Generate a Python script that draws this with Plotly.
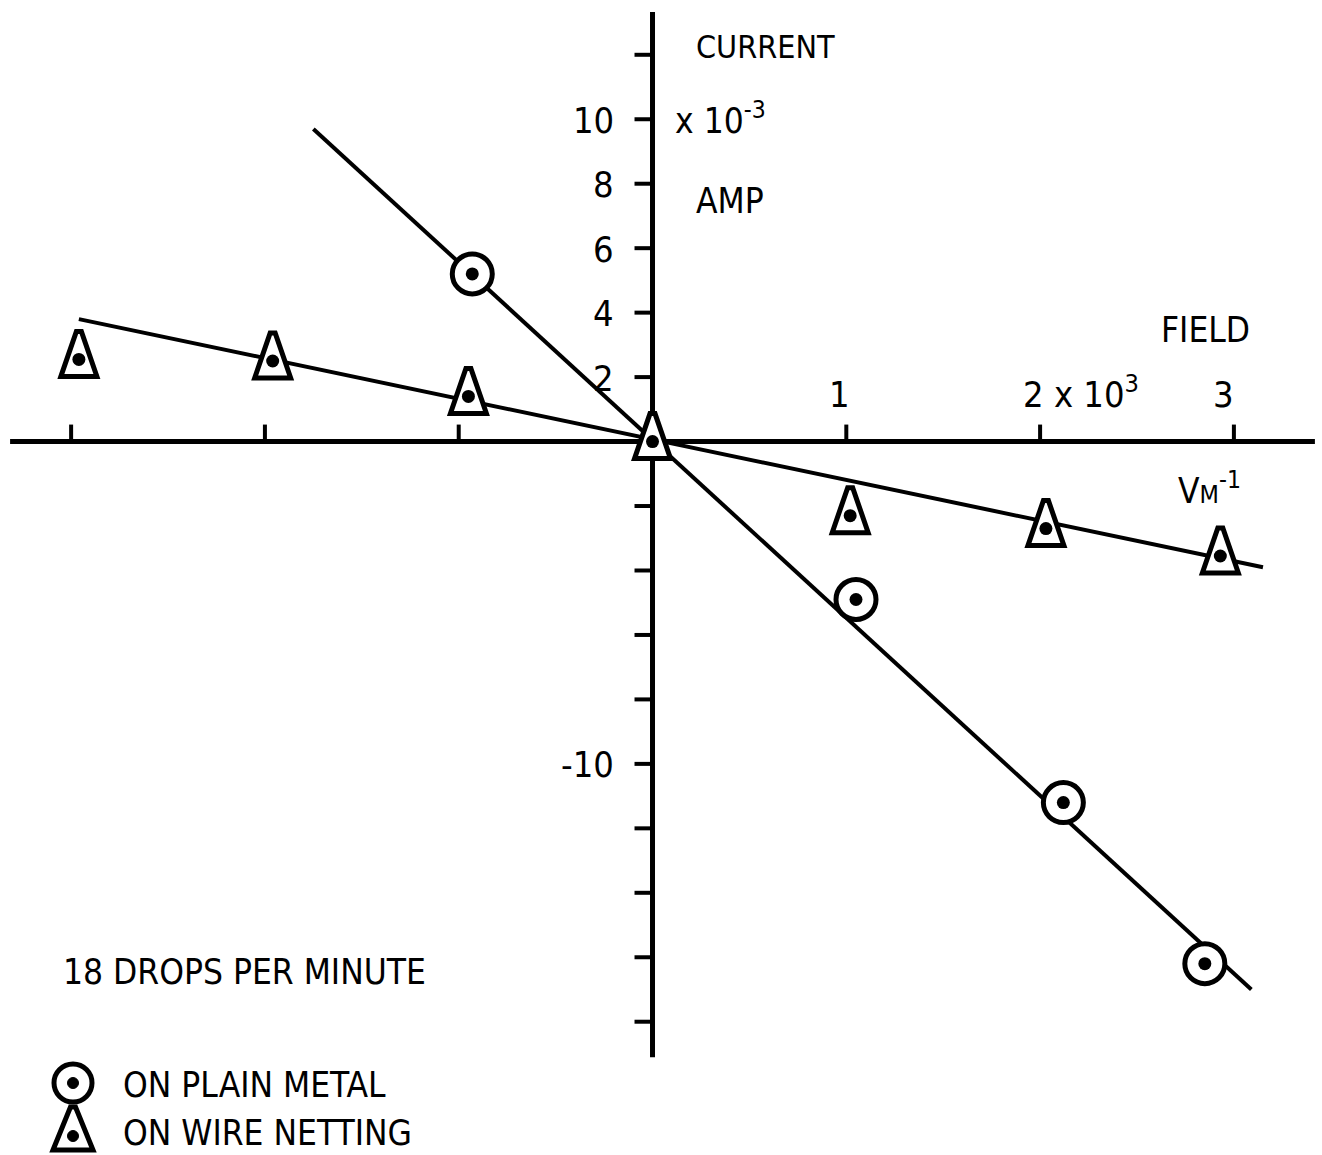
import plotly.graph_objects as go

# Measured current (x 10^-3 A) against field (x 10^3 V/m), 18 drops per minute
metal_field = [-0.93, 1.05, 2.12, 2.85]
metal_current = [5.2, -4.9, -11.2, -16.2]

netting_field = [-2.96, -1.96, -0.95, 0.0, 1.02, 2.03, 2.93]
netting_current = [2.55, 2.5, 1.4, 0.0, -2.3, -2.7, -3.55]

# Hand-fitted straight lines through the origin
metal_fit_field = [-1.75, 3.09]
metal_fit_current = [9.7, -17.0]
netting_fit_field = [-2.96, 3.15]
netting_fit_current = [3.8, -3.9]

# Axis ticks and labels
x_ticks = [-3, -2, -1, 1, 2, 3]
y_ticks = [12, 10, 8, 6, 4, 2, -2, -4, -6, -8, -10, -12, -14, -16, -18]
y_tick_labels = {10: "10", 8: "8", 6: "6", 4: "4", 2: "2", -10: "-10"}

W, H = 1322, 1155
FONT = "Liberation Sans Narrow, Arial Narrow, DejaVu Sans Condensed, sans-serif"
FS = 35
INK = "black"
X_RANGE = [-3.367, 3.4546]
Y_RANGE = [-22.135, 13.70]


def px(x):
    return x / W


def py(y):
    return 1 - y / H


shapes = []

# Cross-shaped axes through the origin
shapes.append(dict(type="line", xref="x", yref="y", x0=-3.315, x1=3.418, y0=0, y1=0,
                   line=dict(color=INK, width=5), layer="below"))
shapes.append(dict(type="line", xref="x", yref="y", x0=0, x1=0, y0=-19.1, y1=13.33,
                   line=dict(color=INK, width=5), layer="below"))

# Tick marks: above the field axis, left of the current axis
for t in x_ticks:
    shapes.append(dict(type="line", xref="x", yref="y", x0=t, x1=t,
                       ysizemode="pixel", yanchor=0, y0=0, y1=17,
                       line=dict(color=INK, width=4), layer="below"))
for t in y_ticks:
    shapes.append(dict(type="line", xref="x", yref="y", y0=t, y1=t,
                       xsizemode="pixel", xanchor=0, x0=-18, x1=0,
                       line=dict(color=INK, width=4), layer="below"))

# Fitted lines
shapes.append(dict(type="line", xref="x", yref="y",
                   x0=metal_fit_field[0], x1=metal_fit_field[1],
                   y0=metal_fit_current[0], y1=metal_fit_current[1],
                   line=dict(color=INK, width=4), layer="below"))
shapes.append(dict(type="line", xref="x", yref="y",
                   x0=netting_fit_field[0], x1=netting_fit_field[1],
                   y0=netting_fit_current[0], y1=netting_fit_current[1],
                   line=dict(color=INK, width=4), layer="below"))

# Tall triangle symbol around each wire-netting point
TRI = "M-18,-17 L-2.5,28 L2.5,28 L18,-17 Z"
for xv, yv in zip(netting_field, netting_current):
    shapes.append(dict(type="path", xref="x", yref="y",
                       xsizemode="pixel", ysizemode="pixel",
                       xanchor=xv, yanchor=yv, path=TRI,
                       fillcolor="white", line=dict(color=INK, width=5), layer="below"))

# Legend symbols
LEG_X = 73
shapes.append(dict(type="circle", xref="paper", yref="paper",
                   xsizemode="pixel", ysizemode="pixel",
                   xanchor=px(LEG_X), yanchor=py(1083), x0=-19, x1=19, y0=-19, y1=19,
                   fillcolor="white", line=dict(color=INK, width=5)))
shapes.append(dict(type="circle", xref="paper", yref="paper",
                   xsizemode="pixel", ysizemode="pixel",
                   xanchor=px(LEG_X), yanchor=py(1083), x0=-5.5, x1=5.5, y0=-5.5, y1=5.5,
                   fillcolor=INK, line=dict(color=INK, width=1)))
shapes.append(dict(type="path", xref="paper", yref="paper",
                   xsizemode="pixel", ysizemode="pixel",
                   xanchor=px(LEG_X), yanchor=py(1136),
                   path="M-20,-14 L-2.5,29 L2.5,29 L20,-14 Z",
                   fillcolor="white", line=dict(color=INK, width=5)))
shapes.append(dict(type="circle", xref="paper", yref="paper",
                   xsizemode="pixel", ysizemode="pixel",
                   xanchor=px(LEG_X), yanchor=py(1136), x0=-5.5, x1=5.5, y0=-5.5, y1=5.5,
                   fillcolor=INK, line=dict(color=INK, width=1)))

fig = go.Figure()

fig.add_trace(go.Scatter(
    x=metal_field, y=metal_current, mode="markers", name="ON PLAIN METAL",
    marker=dict(symbol="circle", size=40, color="white", line=dict(color=INK, width=5)),
))
fig.add_trace(go.Scatter(
    x=metal_field, y=metal_current, mode="markers", showlegend=False,
    marker=dict(symbol="circle", size=13, color=INK, line=dict(width=0)),
))
fig.add_trace(go.Scatter(
    x=netting_field, y=netting_current, mode="markers", name="ON WIRE NETTING",
    marker=dict(symbol="circle", size=13, color=INK, line=dict(width=0)),
))

annotations = []


def label(text, x, y, xanchor="center", yanchor="middle", size=FS):
    annotations.append(dict(text=text, x=x, y=y, xref="paper", yref="paper",
                            xanchor=xanchor, yanchor=yanchor, showarrow=False,
                            font=dict(family=FONT, size=size, color=INK)))


# Current axis tick labels
for v, txt in y_tick_labels.items():
    annotations.append(dict(text=txt, x=0, y=v, xref="x", yref="y",
                            xanchor="right", yanchor="middle", xshift=-37, yshift=-1,
                            showarrow=False, font=dict(family=FONT, size=FS + 1, color=INK)))

# Field axis tick labels
annotations.append(dict(text="1", x=1, y=0, xref="x", yref="y", xanchor="center",
                        yanchor="bottom", xshift=-7, yshift=25, showarrow=False,
                        font=dict(family=FONT, size=FS + 1, color=INK)))
annotations.append(dict(text="2 x 10<sup>3</sup>", x=2, y=0, xref="x", yref="y", xanchor="left",
                        yanchor="bottom", xshift=-19, yshift=25, showarrow=False,
                        font=dict(family=FONT, size=FS + 1, color=INK)))
annotations.append(dict(text="3", x=3, y=0, xref="x", yref="y", xanchor="center",
                        yanchor="bottom", xshift=-10, yshift=25, showarrow=False,
                        font=dict(family=FONT, size=FS + 1, color=INK)))

# Axis titles
label("CURRENT", px(694), py(47), xanchor="left", size=32)
label("x 10<sup>-3</sup>", px(673), py(118), xanchor="left")
label("AMP", px(694), py(201), xanchor="left")
label("FIELD", px(1252), py(330), xanchor="right")
label("V<span style='font-size:25px'>M</span><sup>-1</sup>", px(1176), py(488), xanchor="left")

# Notes and legend text
label("18 DROPS PER MINUTE", px(61), py(972), xanchor="left")
label("ON PLAIN METAL", px(121), py(1085), xanchor="left")
label("ON WIRE NETTING", px(121), py(1133), xanchor="left")

fig.update_layout(
    width=W, height=H,
    margin=dict(l=0, r=0, t=0, b=0),
    paper_bgcolor="white", plot_bgcolor="white",
    showlegend=False,
    xaxis=dict(range=X_RANGE, visible=False, showgrid=False, zeroline=False, fixedrange=True),
    yaxis=dict(range=Y_RANGE, visible=False, showgrid=False, zeroline=False, fixedrange=True),
    shapes=shapes,
    annotations=annotations,
)

fig.write_html("out.html")
